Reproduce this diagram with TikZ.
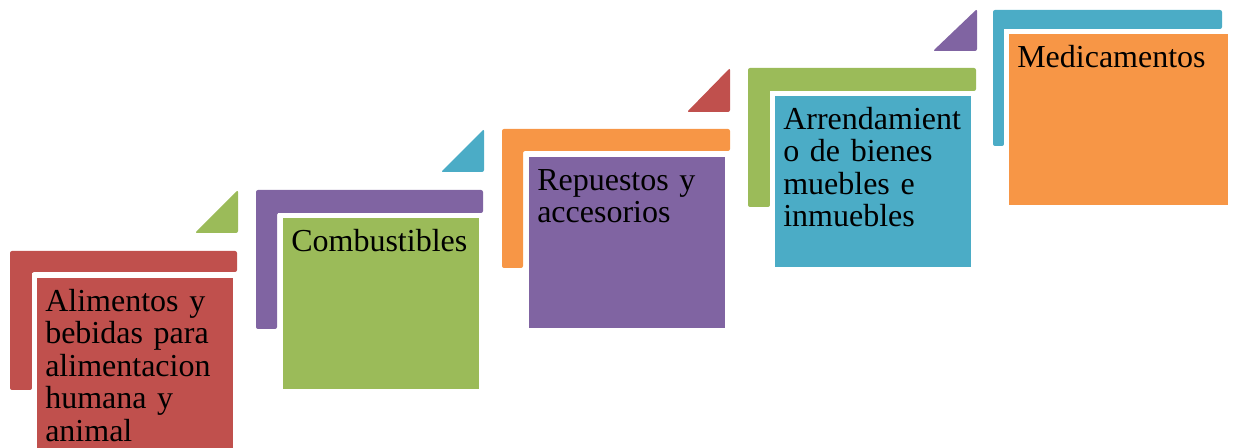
\documentclass[tikz,border=0pt]{standalone}
\usepackage{fontspec}
\setmainfont{Liberation Serif}
\usepackage{tikz}
\definecolor{rojo}{HTML}{C0504D}
\definecolor{verde}{HTML}{9BBB59}
\definecolor{morado}{HTML}{8064A2}
\definecolor{celeste}{HTML}{4BACC6}
\definecolor{naranja}{HTML}{F79646}
\begin{document}
\begin{tikzpicture}[x=0.75pt,y=-0.75pt,
  esq/.style={rounded corners=1.5pt},
  caja/.style={anchor=north west,inner sep=0pt,inner xsep=6pt,text width=135pt,
    align=left,text height=24.75pt,text depth=103pt,
    font=\fontsize{24}{24.4}\selectfont,
    preaction={draw=white,line width=7.5pt}}]
\useasboundingbox (0,0) rectangle (1234,448);
\fill[rojo,esq] (10,251) -- (237,251) -- (237,272) -- (32,272) -- (32,390)
  -- (10,390) -- cycle; \fill[verde,esq] (195,233) -- (238,233) -- (238,190)
  -- cycle;
\fill[morado,esq] (256,190) -- (483,190) -- (483,213) -- (277,213) --
  (277,329) -- (256,329) -- cycle; \fill[celeste,esq] (441,172) -- (484,172)
  -- (484,129) -- cycle;
\fill[naranja,esq] (502,129) -- (730,129) -- (730,151) -- (523,151) --
  (523,268) -- (502,268) -- cycle; \fill[rojo,esq] (687,112) -- (730,112)
  -- (730,68) -- cycle;
\fill[verde,esq] (748,68) -- (976,68) -- (976,91) -- (770,91) -- (770,207)
  -- (748,207) -- cycle; \fill[morado,esq] (933,51) -- (977,51) -- (977,9)
  -- cycle;
\fill[celeste,esq] (993,10) -- (1222,10) -- (1222,29) -- (1004,29) --
  (1004,146) -- (993,146) -- cycle;
\node[caja,fill=rojo] (alimentos) at (37,278) {Alimentos y\\bebidas para\\
  alimentacion\\humana y\\animal};
\node[caja,fill=verde] (combustibles) at (283,218) {Combustibles};
\node[caja,fill=morado] (repuestos) at (529,157) {Repuestos y\\accesorios};
\node[caja,fill=celeste] (arrendamiento) at (775,96) {Arrendamient\\
  o de bienes\\muebles e\\inmuebles};
\node[caja,fill=naranja,text width=152.25pt] (medicamentos) at (1009,34)
  {Medicamentos};
\end{tikzpicture}
\end{document}
